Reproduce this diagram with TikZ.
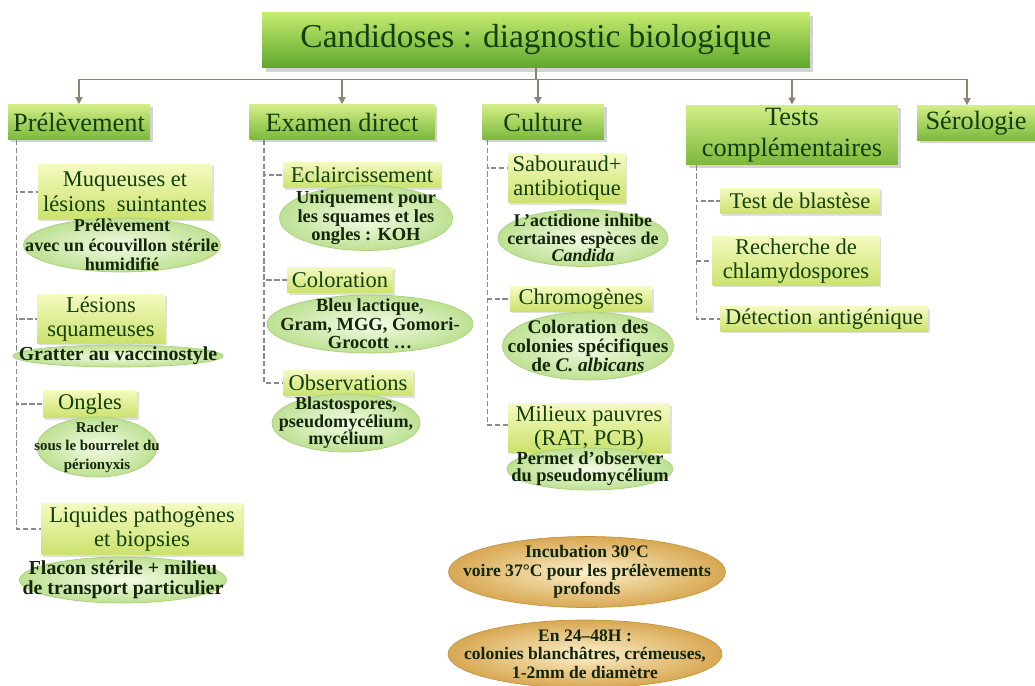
\documentclass[tikz,border=0pt]{standalone}
\usepackage{fontspec}
\setmainfont{Liberation Serif}
\usetikzlibrary{shapes.geometric,shadows,calc,arrows.meta,backgrounds}
\definecolor{textvert}{HTML}{123F0C}
\definecolor{textbulle}{HTML}{13260A}
\definecolor{liengris}{HTML}{8C8473}
\definecolor{pointgris}{HTML}{8A8A8A}
\definecolor{titrehaut}{HTML}{C6EC70}
\definecolor{titremil}{HTML}{92D244}
\definecolor{titrebas}{HTML}{5FA62C}
\definecolor{rubhaut}{HTML}{D2EE86}
\definecolor{rubbas}{HTML}{7DB83C}
\definecolor{soushaut}{HTML}{F5FAC0}
\definecolor{sousbas}{HTML}{CBE26C}
\definecolor{bulleint}{HTML}{F5FBE8}
\definecolor{bulleext}{HTML}{BDE192}
\definecolor{bullebord}{HTML}{A9CF7C}
\definecolor{orint}{HTML}{FCF0CC}
\definecolor{orext}{HTML}{D8A852}
\definecolor{orbord}{HTML}{C49644}
\tikzset{titre/.style={rectangle, top color=titrehaut, middle color=titremil, bottom color=titrebas, text=textvert, font=\fontsize{19}{22}\selectfont, inner sep=2pt, drop shadow={shadow xshift=2pt, shadow yshift=-2pt, opacity=0.35}}}
\tikzset{rubrique/.style={rectangle, top color=rubhaut, bottom color=rubbas, text=textvert, font=\fontsize{15}{18}\selectfont, align=center, inner sep=1pt, minimum height=0.7cm, drop shadow={shadow xshift=1.5pt, shadow yshift=-1.5pt, opacity=0.35}}}
\tikzset{sousbox/.style={rectangle, top color=soushaut, bottom color=sousbas, text=textvert, font=\fontsize{12.8}{14}\selectfont, align=center, inner sep=1pt, drop shadow={shadow xshift=1pt, shadow yshift=-1pt, opacity=0.25}}}
\tikzset{bulle/.style={ellipse, inner color=bulleint, outer color=bulleext, draw=bullebord, text=textbulle, font=\fontsize{10.5}{10.5}\selectfont\bfseries, align=center, inner xsep=-3cm, inner ysep=-2cm}}
\tikzset{bulleor/.style={bulle, inner color=orint, outer color=orext, draw=orbord, font=\fontsize{10}{10.5}\selectfont\bfseries}}
\tikzset{bus/.style={draw=liengris, line width=0.9pt}}
\tikzset{fleche/.style={bus, -{Triangle[length=4pt,width=4pt]}}}
\tikzset{pointille/.style={draw=pointgris, line width=0.9pt, dash pattern=on 3pt off 1.5pt}}

\begin{document}
\begin{tikzpicture}[x=0.02cm, y=-0.02cm]
\useasboundingbox (0,0) rectangle (1035,686);

% titre et rubriques
\node[titre, minimum width=10.96cm, minimum height=1.12cm] (titre) at (536,40) {Candidoses : diagnostic biologique};
\node[rubrique, minimum width=2.84cm] (prel) at (79,122) {Prélèvement};
\node[rubrique, minimum width=3.7cm] (exam) at (342,122) {Examen direct};
\node[rubrique, minimum width=2.44cm] (cult) at (543,122) {Culture};
\node[rubrique, minimum width=4.24cm, minimum height=1.2cm] (tests) at (792,135) {Tests\\complémentaires};
\node[rubrique, minimum width=2.36cm] (sero) at (976,123) {Sérologie};

\draw[bus] (titre.south) -- ++(0,11) coordinate (bus);
\draw[fleche] (bus) -| (prel.north);
\draw[fleche] (bus) -| (exam.north);
\draw[fleche] (bus) -| ([xshift=-0.1cm]cult.north);
\draw[fleche] (bus) -| (tests.north);
\draw[fleche] (bus) -| ([xshift=-0.18cm]sero.north);

% sous-rubriques
\node[sousbox, minimum width=3.48cm, minimum height=1.1cm] (muq) at (125,192) {Muqueuses et\\lésions~ suintantes};
\node[sousbox, minimum width=2.56cm, minimum height=0.96cm] (lsq) at (101,319) {Lésions\\squameuses};
\node[sousbox, minimum width=1.88cm, minimum height=0.56cm] (ong) at (90,404) {Ongles};
\node[sousbox, minimum width=4.02cm, minimum height=1.04cm] (liq) at (142,529) {Liquides pathogènes\\et biopsies};

\node[sousbox, minimum width=3.14cm, minimum height=0.52cm] (ecl) at (362,175) {Eclaircissement};
\node[sousbox, minimum width=2.12cm, minimum height=0.52cm] (colo) at (340,280) {Coloration};
\node[sousbox, minimum width=2.6cm, minimum height=0.52cm] (obs) at (348,383) {Observations};

\node[sousbox, minimum width=2.34cm, minimum height=1cm] (sab) at (567,178) {Sabouraud+\\antibiotique};
\node[sousbox, minimum width=2.84cm, minimum height=0.48cm] (chrom) at (581,299) {Chromogènes};
\node[sousbox, minimum width=3.24cm, minimum height=0.8cm] (milp) at (589,428) {Milieux pauvres\\(RAT, PCB)};

\node[sousbox, minimum width=3.2cm, minimum height=0.52cm] (blast) at (800,201) {Test de blastèse};
\node[sousbox, minimum width=3.34cm, minimum height=0.96cm] (chlam) at (796,261) {Recherche de\\chlamydospores};
\node[sousbox, minimum width=4.16cm, minimum height=0.48cm] (antig) at (824,319) {Détection antigénique};

% pointilles
\begin{scope}[on background layer]
\draw[pointille] ($(prel.south west)+(9,0)$) |- (muq.west);
\draw[pointille] ($(prel.south west)+(9,0)$) |- (lsq.west);
\draw[pointille] ($(prel.south west)+(9,0)$) |- (ong.west);
\draw[pointille] ($(prel.south west)+(9,0)$) |- (liq.west);
\draw[pointille] ($(exam.south west)+(15,0)$) |- (ecl.west);
\draw[pointille] ($(exam.south west)+(15,0)$) |- (colo.west);
\draw[pointille] ($(exam.south west)+(15,0)$) |- (obs.west);
\draw[pointille] ($(cult.south west)+(6,0)$) |- ([yshift=0.2cm]sab.west);
\draw[pointille] ($(cult.south west)+(6,0)$) |- (chrom.west);
\draw[pointille] ($(cult.south west)+(6,0)$) |- ([yshift=0.06cm]milp.west);
\draw[pointille] ($(tests.south west)+(11,0)$) |- (blast.west);
\draw[pointille] ($(tests.south west)+(11,0)$) |- (chlam.west);
\draw[pointille] ($(tests.south west)+(11,0)$) |- (antig.west);
\end{scope}

% bulles
\node[bulle, minimum width=3.94cm, minimum height=1.08cm, font=\fontsize{10.3}{11}\selectfont\bfseries] (bmuq) at (122,245) {Prélèvement\\avec un écouvillon stérile\\humidifié};
\node[bulle, minimum width=4.2cm, minimum height=0.44cm, font=\fontsize{11.3}{12}\selectfont\bfseries] (blsq) at (118,356) {Gratter au vaccinostyle};
\node[bulle, minimum width=2.4cm, minimum height=1.2cm, font=\fontsize{8.5}{10.5}\selectfont\bfseries] (bong) at (97,447) {Racler\\sous le bourrelet du\\périonyxis};
\node[bulle, minimum width=4.14cm, minimum height=0.92cm, font=\fontsize{11.3}{11.3}\selectfont\bfseries] (bliq) at (123,580) {Flacon stérile + milieu\\de transport particulier};

\node[bulle, minimum width=3.46cm, minimum height=1.3cm] (becl) at (366,218) {Uniquement pour\\les squames et les\\ongles : KOH};
\node[bulle, minimum width=4.12cm, minimum height=1.16cm] (bcolo) at (370,324) {Bleu lactique,\\Gram, MGG, Gomori-\\Grocott \dots};
\node[bulle, minimum width=2.96cm, minimum height=1.16cm, font=\fontsize{10.3}{10}\selectfont\bfseries] (bobs) at (346,423) {Blastospores,\\pseudomycélium,\\mycélium};

\node[bulle, minimum width=3.4cm, minimum height=1.14cm, font=\fontsize{10.2}{9.8}\selectfont\bfseries] (bsab) at (583,238) {L’actidione inhibe\\certaines espèces de\\\textit{Candida}};
\node[bulle, minimum width=3.42cm, minimum height=1.36cm, font=\fontsize{11}{10.8}\selectfont\bfseries] (bchrom) at (588,346) {Coloration des\\colonies spécifiques\\de \textit{C. albicans}};
\node[bulle, minimum width=3.32cm, minimum height=0.84cm, font=\fontsize{10.5}{9.6}\selectfont\bfseries] (bmilp) at (590,469) {Permet d’observer\\du pseudomycélium};

\node[bulleor, minimum width=5.54cm, minimum height=1.42cm] (bincub) at (587,572) {Incubation 30°C\\voire 37°C pour les prélèvements\\profonds};
\node[bulleor, minimum width=5.48cm, minimum height=1.36cm] (bcolon) at (585,654) {En 24–48H :\\colonies blanchâtres, crémeuses,\\1-2mm de diamètre};
\end{tikzpicture}
\end{document}
